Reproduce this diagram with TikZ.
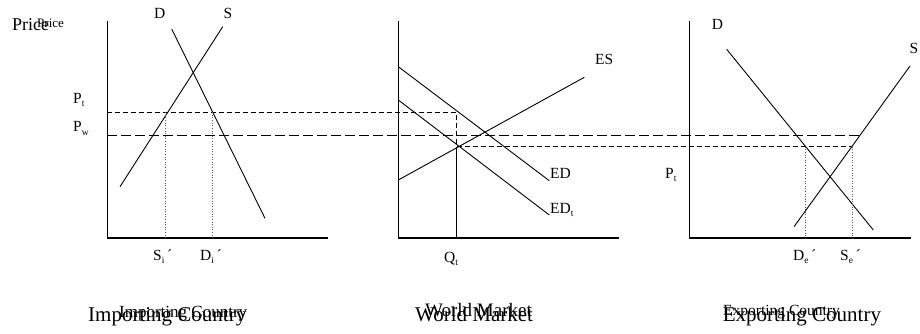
\documentclass[tikz,border=0pt]{standalone}
\usepackage{fontspec}
\setmainfont{Liberation Serif}
\newcommand\sbs[1]{\raisebox{-0.5ex}{\fontsize{9.5}{9.5}\selectfont #1}}
\begin{document}
\begin{tikzpicture}[x=1pt,y=-1pt,
  curve/.style={line width=0.9pt},
  axis/.style={line width=1.1pt},
  shortdash/.style={line width=0.8pt,dash pattern=on 5pt off 3pt},
  longdash/.style={line width=0.9pt,dash pattern=on 10pt off 4pt},
  dotline/.style={line width=0.6pt,dotted,gray!70!black},
  lab/.style={inner sep=0pt,anchor=base west,font=\fontsize{15.5}{15.5}\selectfont},
  big/.style={inner sep=0pt,anchor=base west,font=\fontsize{21}{21}\selectfont}]
\useasboundingbox (0,0) rectangle (920,334);
% ---------- coordinates ----------
% panel 1
\coordinate (a1t) at (107.3,20.7); \coordinate (a1o) at (107.3,238); \coordinate (a1r) at (328,238);
\coordinate (d1a) at (171.7,29); \coordinate (d1b) at (265,218.3);
\coordinate (s1a) at (120,186.7); \coordinate (s1b) at (222.7,26.7);
% panel 2
\coordinate (a2t) at (398.3,20.7); \coordinate (a2o) at (398.3,238); \coordinate (a2r) at (619.3,238);
\coordinate (esa) at (398.3,180); \coordinate (esb) at (584.3,77.3);
\coordinate (eda) at (398.3,66.7); \coordinate (edb) at (549.3,180.7);
\coordinate (eta) at (398.3,100); \coordinate (etb) at (549.3,215);
\coordinate (qtop) at (456.7,112.3); \coordinate (qmid) at (456.7,146.7); \coordinate (qbot) at (456.7,238);
% panel 3
\coordinate (a3t) at (689.3,20.7); \coordinate (a3o) at (689.3,238); \coordinate (a3r) at (910.7,238);
\coordinate (d3a) at (726.7,49.3); \coordinate (d3b) at (873.3,230);
\coordinate (s3a) at (794,226.7); \coordinate (s3b) at (910,66);
% price lines
\coordinate (ptl) at (107.3,112.3);
\coordinate (pwl) at (107.3,135); \coordinate (pwr) at (863,135);
\coordinate (lowr) at (852.3,146.7);
% dotted verticals
\coordinate (v1t) at (165.7,112.3); \coordinate (v1b) at (165.7,238);
\coordinate (v2t) at (212.3,112.3); \coordinate (v2b) at (212.3,238);
\coordinate (v3t) at (805.7,146.7); \coordinate (v3b) at (805.7,238);
\coordinate (v4t) at (852.3,146.7); \coordinate (v4b) at (852.3,238);
% ---------- drawing ----------
\draw[axis] (a1t) -- (a1o) -- (a1r);
\draw[axis] (a2t) -- (a2o) -- (a2r);
\draw[axis] (a3t) -- (a3o) -- (a3r);
\draw[curve] (d1a) -- (d1b);
\draw[curve] (s1a) -- (s1b);
\draw[curve] (esa) -- (esb);
\draw[curve] (eda) -- (edb);
\draw[curve] (eta) -- (etb);
\draw[curve] (qmid) -- (qbot);
\draw[curve] (d3a) -- (d3b);
\draw[curve] (s3a) -- (s3b);
\draw[shortdash] (ptl) -- (qtop) -- (qmid) -- (lowr);
\draw[longdash] (pwl) -- (pwr);
\draw[dotline] (v1t) -- (v1b);
\draw[dotline] (v2t) -- (v2b);
\draw[dotline] (v3t) -- (v3b);
\draw[dotline] (v4t) -- (v4b);
% ---------- labels ----------
\node[lab] (lD1) at (154,19) {D};
\node[lab] (lS1) at (223.3,19) {S};
\node[lab] (lPt1) at (73,103) {P\sbs{t}};
\node[lab] (lPw) at (73,131.7) {P\sbs{w}};
\node[lab] (lSi) at (153,260) {S\sbs{i}\,´};
\node[lab] (lDi) at (200,260) {D\sbs{i}\,´};
\node[lab] (lES) at (595,65) {ES};
\node[lab] (lED) at (550,178) {ED};
\node[lab] (lEDt) at (550,213) {ED\sbs{t}};
\node[lab] (lQt) at (444,262) {Q\sbs{t}};
\node[lab] (lD3) at (711.7,30) {D};
\node[lab] (lS3) at (909.3,53.3) {S};
\node[lab] (lPt3) at (665,178.3) {P\sbs{t}};
\node[lab] (lDe) at (793,260) {D\sbs{e}\,´};
\node[lab] (lSe) at (840,260) {S\sbs{e}\,´};
% titles
\node[inner sep=0pt,anchor=base west,font=\fontsize{18}{18}\selectfont] (price1) at (12,31) {Price};
\node[inner sep=0pt,anchor=base west,font=\fontsize{13}{13}\selectfont] (price2) at (37,28) {Price};
\node[big] (imp1) at (88,321.7) {Importing Country};
\node[inner sep=0pt,anchor=base west,font=\fontsize{17}{17}\selectfont] (imp2) at (119,317) {Importing Country};
\node[big] (wm1) at (415,321) {World Market};
\node[inner sep=0pt,anchor=base west,font=\fontsize{19}{19}\selectfont] (wm2) at (425,316) {World Market};
\node[big] (exp1) at (722.7,321) {Exporting Country};
\node[inner sep=0pt,anchor=base west,font=\fontsize{15.5}{15.5}\selectfont] (exp2) at (723,315) {Exporting Country};
\end{tikzpicture}
\end{document}
